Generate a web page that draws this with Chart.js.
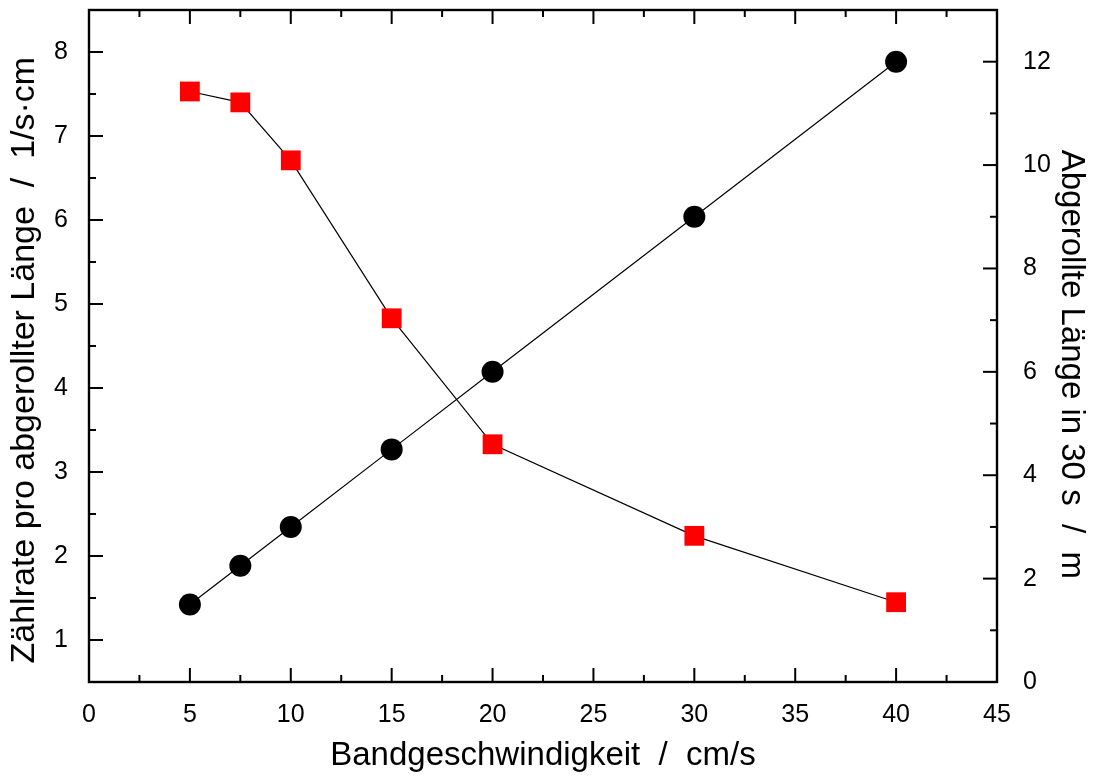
<!DOCTYPE html>
<html>
<head>
<meta charset="utf-8">
<script src="https://cdn.jsdelivr.net/npm/chart.js@4.4.0/dist/chart.umd.min.js"></script>
<style>
  html, body { margin: 0; padding: 0; background: #fff; }
  #wrap { width: 1093px; height: 776px; }
</style>
</head>
<body>
<div id="wrap"><canvas id="chart"></canvas></div>
<script>
// Bandgeschwindigkeit / cm/s
const speeds = [5, 7.5, 10, 15, 20, 30, 40];
// Zählrate pro abgerollter Länge / 1/s·cm (left axis)
const rates = [7.53, 7.40, 6.71, 4.83, 3.33, 2.24, 1.45];
// Abgerollte Länge in 30 s / m (right axis)
const lengths = [1.5, 2.25, 3, 4.5, 6, 9, 12];

// labelled (major) ticks
const xLabels = [0, 5, 10, 15, 20, 25, 30, 35, 40, 45];
const leftLabels = [1, 2, 3, 4, 5, 6, 7, 8];
const rightLabels = [0, 2, 4, 6, 8, 10, 12];

const FONT = "'Liberation Sans', Arial, Helvetica, sans-serif";

// frame + inward ticks, like the original plot
const frameTicks = {
    id: 'frameTicks',
    afterDraw(chart) {
        const ctx = chart.ctx;
        const a = chart.chartArea;
        ctx.save();
        ctx.strokeStyle = '#000';
        ctx.lineWidth = 2.4;
        ctx.strokeRect(a.left, a.top, a.right - a.left, a.bottom - a.top);
        ctx.lineWidth = 2;

        const x = chart.scales.x;
        x.ticks.forEach(t => {
            const px = x.getPixelForValue(t.value);
            const len = xLabels.includes(t.value) ? 14 : 7;
            ctx.beginPath();
            ctx.moveTo(px, a.bottom);
            ctx.lineTo(px, a.bottom - len);
            ctx.moveTo(px, a.top);
            ctx.lineTo(px, a.top + len);
            ctx.stroke();
        });

        const yl = chart.scales.y;
        yl.ticks.forEach(t => {
            const py = yl.getPixelForValue(t.value);
            const len = leftLabels.includes(t.value) ? 14 : 7;
            ctx.beginPath();
            ctx.moveTo(a.left, py);
            ctx.lineTo(a.left + len, py);
            ctx.stroke();
        });

        const yr = chart.scales.y2;
        yr.ticks.forEach(t => {
            const py = yr.getPixelForValue(t.value);
            const len = rightLabels.includes(t.value) ? 14 : 7;
            ctx.beginPath();
            ctx.moveTo(a.right, py);
            ctx.lineTo(a.right - len, py);
            ctx.stroke();
        });
        ctx.restore();
    }
};

function noPad(scale) {
    scale.paddingTop = 0;
    scale.paddingBottom = 0;
    scale.paddingLeft = 0;
    scale.paddingRight = 0;
}

const ctx = document.getElementById('chart');
new Chart(ctx, {
    type: 'scatter',
    data: {
        datasets: [
            {
                label: 'Abgerollte Länge',
                data: speeds.map((s, i) => ({ x: s, y: lengths[i] })),
                yAxisID: 'y2',
                showLine: true,
                borderColor: '#000',
                borderWidth: 1.2,
                pointStyle: 'circle',
                pointRadius: 11,
                pointHoverRadius: 11,
                pointBackgroundColor: '#000',
                pointBorderWidth: 0
            },
            {
                label: 'Zählrate',
                data: speeds.map((s, i) => ({ x: s, y: rates[i] })),
                yAxisID: 'y',
                showLine: true,
                borderColor: '#000',
                borderWidth: 1.2,
                pointStyle: 'rect',
                pointRadius: 14,
                pointHoverRadius: 14,
                pointBackgroundColor: '#ff0000',
                pointBorderWidth: 0
            }
        ]
    },
    options: {
        responsive: true,
        maintainAspectRatio: false,
        animation: false,
        layout: {
            autoPadding: false,
            padding: { top: 10, left: 0, right: 0, bottom: 0 }
        },
        plugins: {
            legend: { display: false },
            tooltip: { enabled: false }
        },
        scales: {
            x: {
                type: 'linear',
                position: 'bottom',
                min: 0,
                max: 45,
                grid: { display: false },
                border: { display: false },
                ticks: {
                    stepSize: 2.5,
                    autoSkip: false,
                    maxRotation: 0,
                    padding: 10,
                    color: '#000',
                    font: { family: FONT, size: 25 },
                    callback: v => xLabels.includes(v) ? String(v) : ''
                },
                title: {
                    display: true,
                    text: 'Bandgeschwindigkeit  /  cm/s',
                    color: '#000',
                    font: { family: FONT, size: 33 },
                    padding: 0
                },
                afterFit(scale) {
                    scale.height = 94;
                    noPad(scale);
                }
            },
            y: {
                type: 'linear',
                position: 'left',
                min: 0.5,
                max: 8.5,
                grid: { display: false },
                border: { display: false },
                ticks: {
                    stepSize: 0.5,
                    autoSkip: false,
                    padding: 13,
                    color: '#000',
                    font: { family: FONT, size: 25 },
                    callback: v => leftLabels.includes(v) ? String(v) : ''
                },
                title: {
                    display: true,
                    // trailing spaces push the label a little lower, as in the original
                    text: 'Zählrate pro abgerollter Länge  /  1/s·cm   ',
                    color: '#000',
                    font: { family: FONT, size: 34 },
                    padding: 4
                },
                afterFit(scale) {
                    scale.width = 89;
                    noPad(scale);
                }
            },
            y2: {
                type: 'linear',
                position: 'right',
                min: 0,
                max: 13,
                grid: { display: false },
                border: { display: false },
                ticks: {
                    stepSize: 1,
                    autoSkip: false,
                    padding: 18,
                    color: '#000',
                    font: { family: FONT, size: 25 },
                    callback: v => rightLabels.includes(v) ? String(v) : ''
                },
                title: {
                    display: true,
                    // leading spaces push the label a little lower, as in the original
                    text: '    Abgerollte Länge in 30 s  /  m',
                    color: '#000',
                    font: { family: FONT, size: 33 },
                    padding: 2
                },
                afterFit(scale) {
                    scale.width = 96;
                    noPad(scale);
                }
            }
        }
    },
    plugins: [frameTicks]
});
</script>
</body>
</html>
